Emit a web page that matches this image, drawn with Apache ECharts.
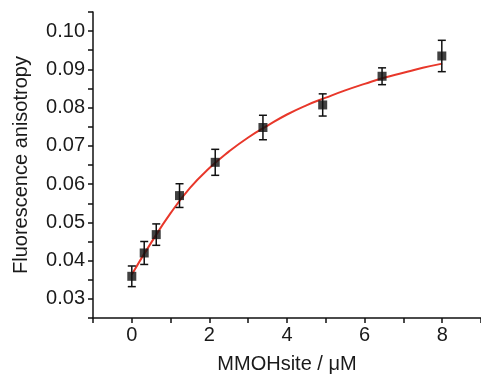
<!DOCTYPE html>
<html><head><meta charset="utf-8">
<script src="https://cdn.jsdelivr.net/npm/echarts@6/dist/echarts.min.js"></script>
<style>html,body{margin:0;padding:0;background:#fff}#c{width:481px;height:375px}</style>
</head><body><div id="c"></div>
<script>
// measured data
const concX = [0, 0.32, 0.63, 1.23, 2.15, 3.38, 4.92, 6.45, 7.99];
const anisY = [0.0359, 0.0420, 0.0468, 0.0570, 0.0657, 0.0748, 0.0807, 0.0882, 0.0935];
const anisErr = [0.0027, 0.0030, 0.0028, 0.0031, 0.0034, 0.0032, 0.0029, 0.0022, 0.0041];
// fitted curve
const fitX = [0, 0.5, 1, 1.5, 2, 2.5, 3, 3.5, 4, 4.5, 5, 5.5, 6, 6.5, 7, 7.5, 8];
const fitY = [0.0364, 0.0447, 0.0524, 0.0590, 0.0642, 0.0685, 0.0722, 0.0753, 0.0782, 0.0806, 0.0826, 0.0845, 0.0862, 0.0878, 0.0891, 0.0904, 0.0915];

const chart = echarts.init(document.getElementById('c'), null, {renderer: 'canvas'});
const txt = '#1a1a1a';
const font = 'Liberation Sans, Arial, sans-serif';
chart.setOption({
  animation: false,
  grid: {left: 93, right: 0, top: 12, bottom: 57, containLabel: false, outerBoundsMode: 'none'},
  xAxis: {
    type: 'value', min: -1, max: 9, interval: 1,
    name: 'MMOHsite / μM', nameLocation: 'middle', nameGap: 36,
    nameTextStyle: {fontSize: 20, color: txt, fontFamily: font},
    axisLine: {onZero: false, lineStyle: {color: '#111', width: 1.5}},
    axisTick: {inside: false, length: 5, lineStyle: {color: '#111', width: 1.5}},
    axisLabel: {fontSize: 20, color: txt, fontFamily: font, margin: 7,
      formatter: v => (Math.round(v) % 2 === 0 && v >= 0 && v <= 8) ? String(v) : ''},
    splitLine: {show: false}
  },
  yAxis: {
    type: 'value', min: 0.025, max: 0.105, interval: 0.005,
    name: 'Fluorescence anisotropy', nameLocation: 'middle', nameGap: 62,
    nameTextStyle: {fontSize: 20, color: txt, fontFamily: font},
    axisLine: {show: true, onZero: false, lineStyle: {color: '#111', width: 1.5}},
    axisTick: {show: true, length: 5, lineStyle: {color: '#111', width: 1.5}},
    axisLabel: {fontSize: 20, color: txt, fontFamily: font, margin: 8,
      formatter: v => { const k = Math.round(v * 1000); return (k % 10 === 0 && k >= 30 && k <= 100) ? v.toFixed(2) : ''; }},
    splitLine: {show: false}
  },
  series: [
    {
      type: 'line', data: fitX.map((x, i) => [x, fitY[i]]), smooth: true, symbol: 'none',
      lineStyle: {color: '#e8372a', width: 2}, z: 2
    },
    {
      type: 'custom', z: 3,
      data: concX.map((x, i) => [x, anisY[i] - anisErr[i], anisY[i] + anisErr[i]]),
      renderItem: (params, api) => {
        const lo = api.coord([api.value(0), api.value(1)]);
        const hi = api.coord([api.value(0), api.value(2)]);
        const w = 4;
        const st = {stroke: '#111', lineWidth: 1.5};
        return {type: 'group', children: [
          {type: 'line', shape: {x1: lo[0], y1: lo[1], x2: hi[0], y2: hi[1]}, style: st},
          {type: 'line', shape: {x1: lo[0] - w, y1: lo[1], x2: lo[0] + w, y2: lo[1]}, style: st},
          {type: 'line', shape: {x1: hi[0] - w, y1: hi[1], x2: hi[0] + w, y2: hi[1]}, style: st}
        ]};
      }
    },
    {
      type: 'scatter', data: concX.map((x, i) => [x, anisY[i]]), symbol: 'rect', symbolSize: 9,
      itemStyle: {color: '#111'}, z: 4
    }
  ]
});
</script></body></html>
